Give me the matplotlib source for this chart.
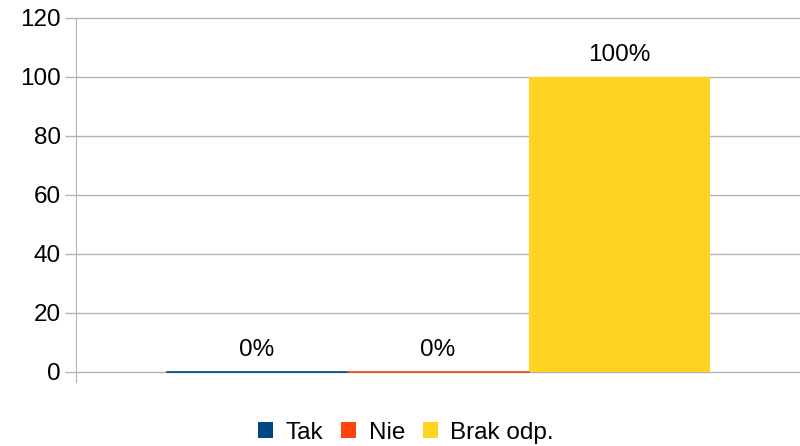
import numpy as np
import matplotlib
matplotlib.use("Agg")
import matplotlib.pyplot as plt

plt.rcParams['font.family'] = ['Liberation Sans', 'DejaVu Sans']

# data
series = ['Tak', 'Nie', 'Brak odp.']
values = [0, 0, 100]
labels = ['0%', '0%', '100%']
colors = ['#004586', '#ff420e', '#ffd320']

fig = plt.figure(figsize=(8, 4.46), dpi=100)
ax = fig.add_axes([0.095, 0.166, 0.905, 0.794])

x = np.arange(len(series))
for i in range(len(series)):
    ax.bar(x[i], values[i], width=1.0, color=colors[i], label=series[i],
           zorder=3, linewidth=0)
    # zero-height bars still show as a thin line
    if values[i] == 0:
        ax.plot([x[i] - 0.5, x[i] + 0.5], [0, 0], color=colors[i], lw=1.2, zorder=4,
                clip_on=False)
    ax.annotate(labels[i], (x[i], values[i]), xytext=(0, 8), textcoords='offset points',
                ha='center', va='bottom', fontsize=17.5, color='black')

ax.set_xlim(-1, 3)
ax.set_ylim(0, 120)
ax.set_yticks(np.arange(0, 121, 20))
ax.set_xticks([])
ax.yaxis.grid(True, color='#b3b3b3', lw=1, zorder=0)
for gl in ax.get_ygridlines():
    gl.set_clip_on(False)
ax.tick_params(axis='y', length=8, width=1, color='#b3b3b3', labelsize=17.5, pad=3)

for s in ['top', 'right', 'bottom']:
    ax.spines[s].set_visible(False)
ax.spines['left'].set_color('#b3b3b3')
ax.spines['left'].set_bounds(-3.4, 120)

leg = ax.legend(loc='center', bbox_to_anchor=(0.456, -0.172), ncol=3, frameon=False,
                fontsize=17.5, handlelength=0.62, handleheight=0.62, handletextpad=0.5,
                columnspacing=0.75, borderpad=0)

fig.savefig('out.png', dpi=100)
